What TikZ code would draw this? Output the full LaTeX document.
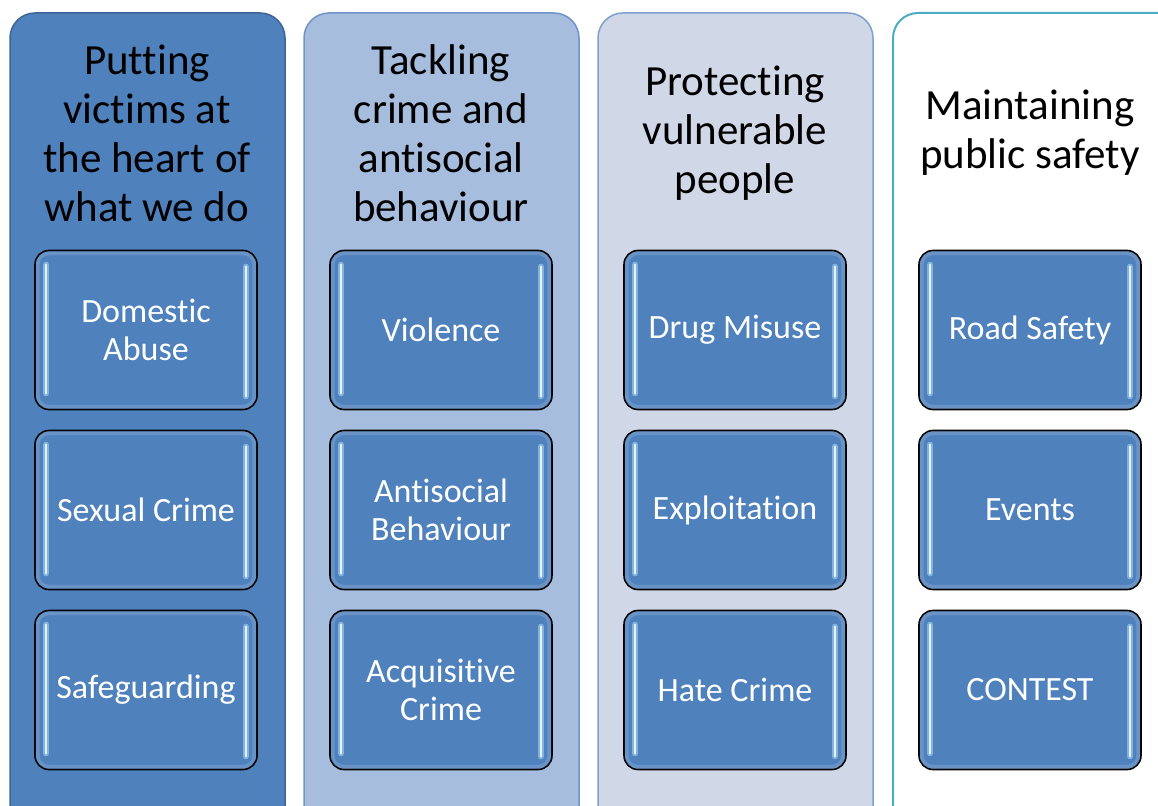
\documentclass[tikz,border=0pt]{standalone}
\usepackage{fontspec}
\setmainfont{Carlito}[Ligatures=CommonOff]
\usetikzlibrary{positioning}

\definecolor{pillarA}{RGB}{79,129,189}
\definecolor{pillarAedge}{RGB}{60,100,150}
\definecolor{pillarB}{RGB}{167,189,222}
\definecolor{pillarBedge}{RGB}{110,148,200}
\definecolor{pillarC}{RGB}{208,216,232}
\definecolor{pillarCedge}{RGB}{125,160,205}
\definecolor{pillarDedge}{RGB}{75,172,198}
\definecolor{tileblue}{RGB}{79,129,189}
\definecolor{shine}{RGB}{190,230,255}

\tikzset{
  pillar/.style={rounded corners=25pt, line width=1.5pt},
  heading/.style={align=center, text=black, font=\fontsize{43}{49}\selectfont},
  tile/.style={draw=black, line width=1.6pt, rounded corners=14pt, fill=tileblue,
    minimum width=222pt, minimum height=159pt, inner sep=0pt,
    text=white, align=center, font=\fontsize{34}{38}\selectfont},
  rim/.style={draw=white, opacity=0.15, line width=4pt, rounded corners=11pt},
  glow/.style={line cap=round, line width=6pt, shine, opacity=0.5},
  glowcore/.style={line cap=round, line width=2.4pt, white!55!shine}
}

% side highlights of a tile
\newcommand{\tileshine}[1]{%
  \draw[rim] ([shift={(3.5pt,-3.5pt)}]#1.north west) rectangle ([shift={(-3.5pt,3.5pt)}]#1.south east);
  \draw[glow] ([shift={(12pt,-15pt)}]#1.north west) -- ([shift={(12pt,17pt)}]#1.south west);
  \draw[glowcore] ([shift={(12pt,-15pt)}]#1.north west) -- ([shift={(12pt,17pt)}]#1.south west);
  \draw[glow] ([shift={(-12pt,-17pt)}]#1.north east) -- ([shift={(-12pt,14pt)}]#1.south east);
  \draw[glowcore] ([shift={(-12pt,-17pt)}]#1.north east) -- ([shift={(-12pt,14pt)}]#1.south east);
}

\begin{document}
\begin{tikzpicture}[x=1pt, y=-1pt]

    \useasboundingbox (0,0) rectangle (1158,805);
    \clip (0,0) rectangle (1158,805);

    % Columns
    \draw[pillar, fill=pillarA, draw=pillarAedge] (10,13) rectangle (285,840);
    \draw[pillar, fill=pillarB, draw=pillarBedge] (304,13) rectangle (579,840);
    \draw[pillar, fill=pillarC, draw=pillarCedge] (598,13) rectangle (873,840);
    \draw[pillar, fill=white, draw=pillarDedge, line width=2pt] (893,13) rectangle (1190,840);

    % Headings
    \node[heading] (victims) at (147,133) {Putting\\victims at\\the heart of\\what we do};
    \node[heading] (tackling) at (441,133) {Tackling\\crime and\\antisocial\\behaviour};
    \node[heading] (protecting) at (735,133) {Protecting\\vulnerable\\people};
    \node[heading] (safety) at (1030,133) {Maintaining\\public safety};

    % FIRST COLUMN
    \node[tile] (domestic) at (146,330) {Domestic\\Abuse};
    \node[tile] (sexual) at (146,510) {Sexual Crime};
    \node[tile] (safeguarding) at (146,690) {Safeguarding};

    % SECOND COLUMN
    \node[tile] (violence) at (441,330) {Violence};
    \node[tile] (antisocial) at (441,510) {Antisocial\\Behaviour};
    \node[tile] (acquisitive) at (441,690) {Acquisitive\\Crime};

    % THIRD COLUMN
    \node[tile] (drugs) at (735,330) {Drug Misuse};
    \node[tile] (exploitation) at (735,510) {Exploitation};
    \node[tile] (hate) at (735,690) {Hate Crime};

    % FOURTH COLUMN
    \node[tile] (road) at (1030,330) {Road Safety};
    \node[tile] (events) at (1030,510) {Events};
    \node[tile] (contest) at (1030,690) {CONTEST};

    % Highlights
    \tileshine{domestic} \tileshine{sexual} \tileshine{safeguarding}
    \tileshine{violence} \tileshine{antisocial} \tileshine{acquisitive}
    \tileshine{drugs} \tileshine{exploitation} \tileshine{hate}
    \tileshine{road} \tileshine{events} \tileshine{contest}

\end{tikzpicture}
\end{document}
